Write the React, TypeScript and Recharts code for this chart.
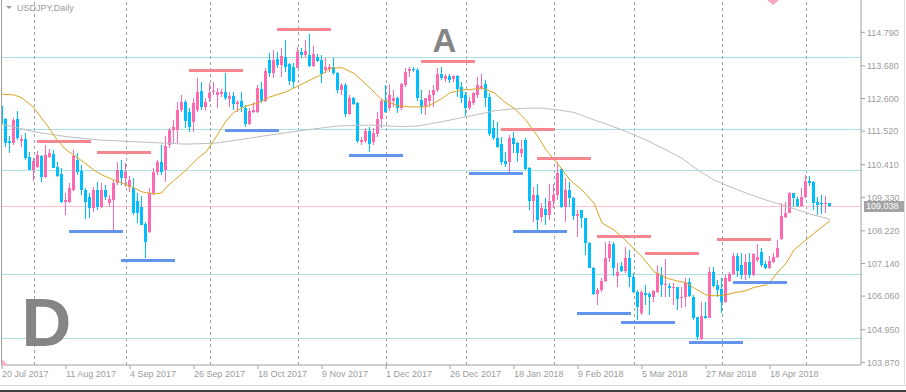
import React from 'react'
import { ComposedChart, Bar, Line, XAxis, YAxis, ReferenceLine, ReferenceDot } from 'recharts'

// time axis: bar index of each date label (one label every 16 daily bars)
const dateBars = [0, 16, 32, 48, 64, 80, 96, 112, 128, 144, 160, 176, 192]
const dateLabels = ['20 Jul 2017', '11 Aug 2017', '4 Sep 2017', '26 Sep 2017', '18 Oct 2017', '9 Nov 2017', '1 Dec 2017', '26 Dec 2017', '18 Jan 2018', '9 Feb 2018', '5 Mar 2018', '27 Mar 2018', '18 Apr 2018']
// first bar of each month (vertical grid)
const monthStarts = [8, 31, 52, 74, 96, 116, 138, 158, 180, 201]
const priceTicks = [114.79, 113.68, 112.6, 111.52, 110.41, 109.33, 108.22, 107.14, 106.06, 104.95, 103.87]

// USDJPY daily candles
const open = [
  112.35, 111.92, 111.19, 111.13, 111.92, 111.19, 111.26, 110.66, 110.23, 110.33,
  110.70, 110.01, 110.66, 110.76, 110.34, 110.10, 109.18, 109.17, 109.57, 110.56,
  110.21, 109.57, 109.35, 108.98, 109.57, 109.02, 109.57, 109.15, 109.24, 109.79,
  110.23, 109.97, 109.67, 109.64, 109.20, 109.00, 108.45, 108.17, 109.46, 110.18,
  110.49, 110.24, 111.06, 111.56, 111.56, 112.22, 112.49, 112.14, 111.83, 112.22,
  112.85, 112.33, 112.61, 112.80, 112.71, 112.75, 112.82, 112.58, 112.69, 112.42,
  112.52, 112.30, 111.75, 112.14, 112.16, 112.91, 112.52, 113.87, 113.43, 113.90,
  113.71, 113.98, 113.73, 113.65, 113.62, 114.13, 114.04, 114.04, 113.68, 113.98,
  113.87, 113.54, 113.57, 113.63, 113.43, 112.88, 113.05, 112.08, 112.61, 112.46,
  111.17, 111.19, 111.52, 111.17, 111.42, 111.91, 112.52, 112.29, 112.52, 112.63,
  112.30, 113.05, 113.52, 113.58, 113.54, 112.55, 112.36, 112.52, 112.71, 112.88,
  113.40, 113.25, 113.35, 113.25, 113.35, 112.99, 112.71, 112.27, 112.44, 112.71,
  112.96, 113.07, 112.65, 111.61, 111.28, 111.08, 110.53, 110.51, 111.28, 111.12,
  110.80, 111.23, 110.29, 109.21, 109.41, 108.69, 108.94, 108.75, 109.21, 109.41,
  110.27, 109.02, 109.57, 109.32, 108.72, 108.91, 108.64, 107.81, 107.00, 106.12,
  106.26, 106.56, 107.31, 107.79, 106.73, 107.05, 106.90, 107.31, 106.70, 106.21,
  105.49, 106.17, 106.13, 106.04, 106.21, 106.76, 106.43, 106.39, 106.32, 106.35,
  106.02, 106.04, 106.54, 106.04, 105.37, 104.63, 105.40, 105.33, 106.87, 106.43,
  106.29, 105.87, 106.57, 106.79, 107.39, 107.09, 106.76, 107.20, 106.76, 107.26,
  107.53, 107.12, 106.98, 107.20, 107.34, 107.94, 108.69, 108.80, 109.46, 109.26,
  109.04, 109.35, 109.88, 109.84, 109.18, 109.14, 109.11, 109.15,
]
const high = [
  112.42, 111.95, 111.36, 111.95, 112.19, 111.39, 111.46, 110.83, 110.63, 110.86,
  110.73, 111.06, 110.93, 110.90, 110.50, 110.30, 109.47, 109.80, 110.90, 110.80,
  110.40, 109.64, 109.47, 109.68, 109.85, 109.79, 109.74, 109.41, 109.90, 110.49,
  110.57, 110.46, 110.04, 109.97, 109.47, 109.37, 108.51, 109.63, 110.29, 110.56,
  111.06, 111.36, 111.63, 111.89, 112.49, 112.70, 112.55, 112.28, 112.61, 113.27,
  113.16, 112.63, 113.10, 113.16, 112.94, 112.91, 113.43, 112.82, 112.82, 112.55,
  112.82, 112.38, 112.27, 112.49, 113.05, 113.16, 113.60, 114.10, 114.20, 114.15,
  114.26, 114.54, 113.76, 113.76, 114.31, 114.26, 114.54, 114.73, 114.35, 114.06,
  114.04, 113.93, 113.73, 113.93, 113.49, 113.10, 113.10, 112.71, 112.66, 112.49,
  111.34, 111.61, 111.67, 111.61, 112.16, 112.58, 113.05, 113.07, 112.88, 112.66,
  113.10, 113.62, 113.65, 113.65, 113.61, 112.88, 112.63, 112.88, 113.05, 113.62,
  113.65, 113.40, 113.40, 113.38, 113.38, 113.16, 112.82, 112.66, 112.82, 113.32,
  113.40, 113.21, 112.78, 111.89, 111.83, 111.34, 110.84, 111.39, 111.50, 111.17,
  111.23, 111.28, 110.34, 109.68, 109.77, 109.13, 109.30, 109.77, 109.77, 110.49,
  110.31, 109.96, 109.85, 109.35, 108.91, 108.91, 108.66, 107.86, 107.03, 106.32,
  106.65, 107.86, 107.89, 107.85, 107.15, 107.20, 107.70, 107.59, 106.81, 106.26,
  106.26, 106.43, 106.21, 106.26, 107.09, 107.03, 107.28, 106.48, 106.48, 106.37,
  106.35, 106.65, 106.65, 106.10, 105.38, 105.87, 105.87, 107.03, 107.03, 106.59,
  106.65, 106.76, 106.87, 107.48, 107.48, 107.48, 107.45, 107.48, 107.48, 107.79,
  107.64, 107.23, 107.39, 107.48, 107.92, 109.13, 109.18, 109.51, 109.48, 109.35,
  109.63, 110.07, 110.04, 109.88, 109.33, 109.41, 109.37, 109.15,
]
const low = [
  111.52, 111.00, 110.80, 111.06, 111.23, 111.00, 110.57, 110.22, 109.87, 110.30,
  109.85, 109.97, 110.63, 110.30, 110.00, 109.14, 108.74, 109.14, 109.54, 110.07,
  109.41, 108.61, 108.64, 108.85, 108.91, 108.98, 109.24, 109.02, 108.25, 109.74,
  109.74, 109.68, 109.51, 108.74, 108.48, 108.41, 107.31, 108.15, 109.41, 110.07,
  110.07, 109.85, 110.97, 111.12, 111.12, 112.15, 111.61, 111.50, 111.50, 112.16,
  112.22, 112.19, 112.49, 112.72, 112.30, 112.65, 112.55, 112.33, 112.22, 112.14,
  112.14, 111.67, 111.72, 112.11, 112.11, 112.44, 112.49, 113.32, 113.27, 113.60,
  113.32, 113.49, 113.05, 112.94, 113.60, 113.93, 113.93, 113.65, 113.65, 113.82,
  113.10, 113.43, 113.49, 113.38, 112.77, 112.71, 111.99, 112.05, 112.38, 111.12,
  111.06, 111.12, 110.84, 111.06, 111.34, 111.61, 112.11, 112.20, 112.33, 112.11,
  112.22, 112.99, 113.32, 113.49, 112.52, 112.08, 112.05, 112.33, 112.33, 112.82,
  113.21, 113.16, 113.10, 113.16, 112.66, 112.44, 112.03, 112.22, 112.38, 112.63,
  112.88, 112.33, 111.36, 111.23, 110.95, 110.40, 110.34, 110.18, 110.79, 110.51,
  110.65, 110.23, 108.91, 108.52, 108.25, 108.52, 108.41, 108.58, 108.97, 109.24,
  108.97, 108.52, 109.02, 108.58, 108.03, 108.30, 107.42, 106.98, 106.10, 105.77,
  106.21, 106.54, 107.19, 106.73, 106.37, 106.87, 106.81, 106.37, 106.15, 105.27,
  105.44, 105.77, 105.44, 105.87, 106.17, 106.04, 106.04, 106.04, 105.77, 105.60,
  105.66, 105.71, 106.04, 105.27, 104.61, 104.61, 105.29, 105.33, 106.37, 106.04,
  105.49, 105.84, 106.54, 106.76, 106.68, 106.62, 106.59, 106.65, 106.73, 107.20,
  107.03, 106.95, 106.95, 107.15, 107.31, 107.92, 108.64, 108.80, 109.02, 109.00,
  109.00, 109.30, 109.71, 108.91, 108.74, 108.78, 108.80, 109.02,
]
const close = [
  111.76, 111.13, 111.13, 111.89, 111.29, 111.26, 110.64, 110.23, 110.53, 110.73,
  110.01, 110.73, 110.80, 110.31, 110.04, 109.18, 109.24, 109.64, 110.70, 110.18,
  109.57, 109.18, 108.97, 109.57, 109.02, 109.57, 109.35, 109.27, 109.79, 110.23,
  109.96, 110.17, 109.90, 108.80, 108.81, 108.42, 107.84, 109.46, 110.18, 110.49,
  110.18, 111.04, 111.56, 111.64, 112.22, 112.49, 111.86, 111.67, 112.44, 112.82,
  112.33, 112.49, 112.77, 112.85, 112.82, 112.82, 112.61, 112.69, 112.42, 112.49,
  112.33, 111.75, 112.19, 112.22, 112.96, 112.52, 113.51, 113.43, 113.87, 113.71,
  114.01, 113.65, 113.18, 113.16, 114.15, 114.04, 114.17, 113.67, 114.06, 113.84,
  113.40, 113.63, 113.65, 113.43, 112.88, 113.05, 112.08, 112.63, 112.42, 111.19,
  111.23, 111.52, 111.08, 111.45, 111.91, 112.52, 112.14, 112.71, 112.63, 112.30,
  113.07, 113.49, 113.58, 113.54, 112.62, 112.33, 112.61, 112.71, 112.88, 113.40,
  113.27, 113.35, 113.21, 113.35, 112.91, 112.63, 112.27, 112.52, 112.77, 113.05,
  113.02, 112.63, 111.42, 111.28, 111.00, 110.51, 110.42, 111.28, 111.08, 110.81,
  110.93, 110.27, 109.22, 109.41, 108.58, 108.97, 108.75, 109.21, 109.41, 110.12,
  109.02, 109.57, 109.32, 108.72, 108.77, 108.64, 107.81, 107.00, 106.12, 106.26,
  106.56, 107.31, 107.79, 106.99, 106.87, 106.90, 107.31, 106.68, 106.21, 105.71,
  106.21, 106.10, 106.04, 106.24, 106.82, 106.43, 106.46, 106.32, 106.37, 105.95,
  106.04, 106.54, 106.06, 105.35, 104.72, 105.40, 105.33, 106.87, 106.39, 106.26,
  105.87, 106.65, 106.79, 107.39, 106.90, 106.76, 107.20, 106.76, 107.45, 107.34,
  107.09, 106.98, 107.23, 107.36, 107.64, 108.71, 108.82, 109.46, 109.30, 109.04,
  109.35, 109.88, 109.81, 109.15, 109.07, 109.11, 109.15, 109.038,
]

// moving averages at these bars
const fastMaBars = [0, 3, 5, 8, 11, 14, 16, 19, 23, 25, 28, 30, 33, 35, 38, 40, 41, 44, 46, 49, 51, 53, 56, 58, 61, 64, 67, 71, 74, 77, 80, 82, 85, 88, 91, 95, 99, 102, 106, 108, 110, 112, 115, 118, 120, 123, 126, 128, 131, 134, 136, 139, 142, 145, 148, 150, 153, 155, 158, 160, 163, 166, 168, 171, 173, 176, 178, 181, 183, 186, 188, 191, 192, 194, 196, 198, 201, 203, 205, 207]
const fastMa = [
  112.74, 112.72, 112.62, 112.29, 111.76, 111.19, 110.90, 110.63, 110.23, 110.07,
  109.90, 109.80, 109.64, 109.51, 109.44, 109.48, 109.66, 110.00, 110.23, 110.63,
  110.83, 111.22, 111.85, 112.15, 112.35, 112.45, 112.65, 112.82, 113.01, 113.21,
  113.40, 113.60, 113.62, 113.43, 113.07, 112.56, 112.36, 112.32, 112.32, 112.45,
  112.60, 112.79, 112.88, 112.91, 112.95, 112.79, 112.45, 112.28, 111.88, 111.33,
  110.90, 110.43, 109.90, 109.57, 109.14, 108.48, 108.25, 108.02, 107.63, 107.36,
  106.87, 106.66, 106.59, 106.50, 106.33, 106.10, 106.07, 106.10, 106.17, 106.24,
  106.35, 106.43, 106.53, 106.86, 107.15, 107.59, 107.92, 108.14, 108.35, 108.55,
]
const slowMaBars = [0, 8, 16, 24, 33, 41, 46, 53, 59, 67, 76, 84, 92, 100, 104, 110, 115, 119, 123, 127, 131, 135, 139, 143, 148, 152, 155, 161, 166, 170, 174, 178, 182, 186, 191, 195, 199, 203, 207]
const slowMa = [
  111.75, 111.50, 111.34, 111.23, 111.17, 111.12, 111.09, 111.12, 111.23, 111.39,
  111.56, 111.69, 111.72, 111.67, 111.69, 111.83, 111.97, 112.07, 112.19, 112.25,
  112.28, 112.28, 112.22, 112.14, 111.89, 111.71, 111.56, 111.23, 110.90, 110.62,
  110.23, 109.90, 109.68, 109.47, 109.24, 109.08, 108.91, 108.74, 108.60,
]

// horizontal levels across the chart
const levels = [113.96, 111.59, 110.22, 106.78, 104.66]
// short swing markers: [start bar, price], each 13.5 bars long
const swingSpan = 13.5
const highMarks = [[8.75, 111.17], [23.75, 110.81], [46.75, 113.52], [68.75, 114.87], [104.75, 113.82], [124.75, 111.59], [133.75, 110.63], [148.75, 108.03], [160.75, 107.46], [178.75, 107.93]]
const lowMarks = [[16.75, 108.19], [29.75, 107.23], [55.75, 111.53], [86.75, 110.70], [116.75, 110.11], [127.75, 108.19], [143.75, 105.48], [154.75, 105.18], [171.75, 104.52], [182.75, 106.51]]
const waveLetters = [{ text: 'A', bar: 110.6, price: 114.14 }, { text: 'D', bar: 11.1, price: 104.41 }]

const BULL = '#ff69b4'
const BEAR = '#00bfff'
const AXIS = '#a0a0a0'
const TEXT = '#9c9c9c'
const FONT = '"Liberation Sans", Arial, sans-serif'

const fastAt: Record<number, number> = {}
fastMaBars.forEach((b, k) => { fastAt[b] = fastMa[k] })
const slowAt: Record<number, number> = {}
slowMaBars.forEach((b, k) => { slowAt[b] = slowMa[k] })

const rows = open.map((o, i) => ({
  i, o, h: high[i], l: low[i], c: close[i],
  fast: fastAt[i] ?? null,
  slow: slowAt[i] ?? null,
}))

function Candle(props: any) {
  const { x, width, payload } = props
  let { y, height } = props
  if (!payload || y == null || height == null) return null
  if (height < 0) { y += height; height = -height }
  const { o, h, l, c } = payload
  const cx = Math.floor(x + width / 2)
  const k = h > l ? height / (h - l) : 0
  const yo = y + (h - o) * k
  const yc = y + (h - c) * k
  const top = Math.round(Math.min(yo, yc))
  const bottom = Math.max(top + 1, Math.round(Math.max(yo, yc)))
  const wickTop = Math.round(y)
  const wickBottom = Math.max(wickTop + 1, Math.round(y + height))
  const fill = c >= o ? BULL : BEAR
  return (
    <g>
      <rect x={cx} y={wickTop} width={1} height={wickBottom - wickTop} fill={fill} />
      <rect x={cx - 1} y={top} width={3} height={bottom - top} fill={fill} />
    </g>
  )
}

function DateTick({ x, y, payload }: any) {
  const k = dateBars.indexOf(payload.value)
  return (
    <text x={x} y={y} dy="0.71em" textAnchor="start" fill={TEXT} fontSize={9} fontFamily={FONT}>
      {dateLabels[k]}
    </text>
  )
}

function PriceTag({ viewBox, text }: any) {
  if (!viewBox) return null
  const left = viewBox.x + viewBox.width + 3
  return (
    <g>
      <rect x={left} y={Math.round(viewBox.y) - 5} width={40} height={11} fill="#a4a4a4" />
      <text x={left + 2} y={viewBox.y} dy="0.355em" fill="#ffffff" fontSize={9} fontFamily={FONT}>{text}</text>
    </g>
  )
}

export default function App() {
  const last = close[close.length - 1]
  return (
    <div style={{ position: 'absolute', left: 0, top: 0, width: 906, height: 392, background: '#fff' }}>
      <ComposedChart width={906} height={392} data={rows} margin={{ top: 0, right: 0, bottom: 0, left: 2 }}>
        <XAxis
          type="number"
          dataKey="i"
          domain={[0, 214.75]}
          allowDataOverflow
          ticks={dateBars}
          interval={0}
          height={27}
          tickSize={4}
          tick={<DateTick />}
          axisLine={{ stroke: AXIS }}
          tickLine={{ stroke: AXIS }}
        />
        <YAxis
          orientation="right"
          width={45}
          domain={[103.781, 115.859]}
          allowDataOverflow
          ticks={priceTicks}
          interval={0}
          tickSize={4}
          tickFormatter={(v: number) => v.toFixed(3)}
          tick={{ fill: TEXT, fontSize: 9, fontFamily: FONT }}
          axisLine={{ stroke: AXIS }}
          tickLine={{ stroke: AXIS }}
        />
        {monthStarts.map(b => (
          <ReferenceLine key={'m' + b} x={b} stroke={AXIS} strokeDasharray="3 3" shapeRendering="crispEdges" zIndex={0} />
        ))}
        {levels.map(p => (
          <ReferenceLine key={'l' + p} y={p} stroke="#aadfe3" shapeRendering="crispEdges" zIndex={0} />
        ))}
        <ReferenceLine y={last} stroke="#ffc0cb" shapeRendering="crispEdges" zIndex={0} label={<PriceTag text={last.toFixed(3)} />} />
        <Bar dataKey={(d: any) => [d.l, d.h]} barSize={3} shape={(p: any) => <Candle {...p} />} isAnimationActive={false} />
        <Line dataKey="slow" type="linear" stroke="#bebebe" strokeWidth={1} dot={false} activeDot={false} connectNulls isAnimationActive={false} />
        <Line dataKey="fast" type="linear" stroke="#daa520" strokeWidth={1} dot={false} activeDot={false} connectNulls isAnimationActive={false} />
        {highMarks.map(([b, p]) => (
          <ReferenceLine key={'h' + b} segment={[{ x: b, y: p }, { x: b + swingSpan, y: p }]} stroke="#f4878f" strokeWidth={3} shapeRendering="crispEdges" />
        ))}
        {lowMarks.map(([b, p]) => (
          <ReferenceLine key={'w' + b} segment={[{ x: b, y: p }, { x: b + swingSpan, y: p }]} stroke="#6495ed" strokeWidth={3} shapeRendering="crispEdges" />
        ))}
        {waveLetters.map(w => (
          <ReferenceDot
            key={w.text}
            x={w.bar}
            y={w.price}
            r={1}
            shape={(p: any) => (
              <text x={p.cx} y={p.cy} textAnchor="middle" fill="#858585" fontWeight="bold" fontFamily={FONT} fontSize={w.text === 'A' ? 33 : 69}>
                {w.text}
              </text>
            )}
          />
        ))}
      </ComposedChart>
      <svg width={906} height={392} style={{ position: 'absolute', left: 0, top: 0, pointerEvents: 'none' }}>
        <rect x={1} y={0} width={1} height={365} fill={AXIS} />
        <polygon points="6,6 12,6 9,9" fill={TEXT} />
        <text x={17} y={11} fill={TEXT} fontSize={9} fontFamily={FONT}>USDJPY,Daily</text>
        <polygon points="767,0 779,0 773,5" fill="#f6a6bf" />
        <polygon points="2,359 2,365 8,365" fill="#f7b5c9" />
        <rect x={904} y={0} width={1} height={386} fill="#dcdcdc" />
        <rect x={0} y={385} width={906} height={1} fill="#d8d8d8" />
        <rect x={0} y={390} width={906} height={2} fill="#404040" />
      </svg>
    </div>
  )
}
